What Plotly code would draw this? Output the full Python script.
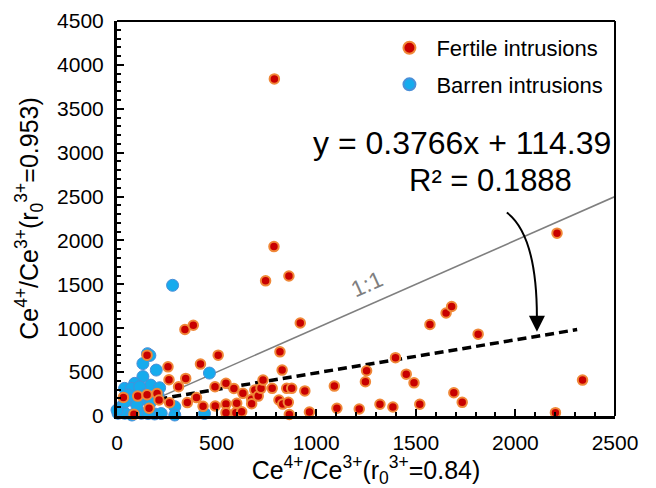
import plotly.graph_objects as go

# ---------------- data ----------------
fertile_x = [790, 788, 746, 863, 2209, 920, 818, 829, 341, 383, 151, 508, 256, 419,
             261, 345, 309, 32, 104, 151, 201, 211, 264, 161, 85, 353, 399, 432, 492,
             493, 547, 547, 547, 587, 601, 597, 632, 626, 676, 676, 692, 709, 723, 733,
             779, 813, 832, 860, 865, 852, 877, 943, 966, 1091, 1104, 1216, 1247, 1253,
             1320, 1385, 1398, 1452, 1491, 1520, 1571, 1652, 1680, 1813, 1691, 1733,
             2201, 2337]
fertile_y = [3840, 1930, 1540, 1595, 2083, 1060, 731, 523, 985, 1034, 693, 693, 560, 591,
             413, 428, 333, 212, 227, 242, 256, 182, 151, 88, 19, 153, 210, 110, 333,
             114, 372, 136, 38, 313, 144, 38, 258, 49, 190, 140, 295, 227, 315, 409,
             315, 182, 136, 156, 17, 315, 315, 286, 45, 341, 88, 80, 390, 515,
             134, 102, 665, 477, 378, 134, 1042, 1174, 1247, 932, 265, 156,
             38, 409]

barren_x = [279, 464, 439, 290, 290, 153, 165, 130, 197, 130, 89, 169, 214, 38, 72, 114,
            55, 206, 166, 22, 5, 39, 75, 122, 156, 189, 222, 0, 115, 70, 40, 140, 100]
barren_y = [1489, 489, 28, 106, 11, 710, 690, 597, 523, 449, 372, 352, 322, 315, 315, 333,
            239, 239, 148, 106, 31, 31, 11, 31, 28, 23, 28, 68, 182, 182, 159, 239, 120]

slope = 0.3766
intercept = 114.39
r2 = 0.1888
fit_x = [0, 2310]
one_x = [0, 2500]

x_range = [0, 2500]
y_range = [0, 4500]
x_ticks = [0, 500, 1000, 1500, 2000, 2500]
y_ticks = [0, 500, 1000, 1500, 2000, 2500, 3000, 3500, 4000, 4500]

FONT = "Liberation Sans, Arial, sans-serif"

fig = go.Figure()

# 1:1 line
fig.add_trace(go.Scatter(x=one_x, y=one_x, mode="lines",
                         line=dict(color="#7f7f7f", width=1.6),
                         showlegend=False, hoverinfo="skip"))
# regression line
fig.add_trace(go.Scatter(x=fit_x, y=[slope * v + intercept for v in fit_x], mode="lines",
                         line=dict(color="black", width=3.5, dash="9px,5px"),
                         showlegend=False, hoverinfo="skip"))

fig.add_trace(go.Scatter(x=barren_x, y=barren_y, mode="markers", name="Barren intrusions",
                         marker=dict(size=12, color="#16abed",
                                     line=dict(color="#4a8fd8", width=1)),
                         cliponaxis=False, legendgroup="b", legendrank=2))
fig.add_trace(go.Scatter(x=fertile_x, y=fertile_y, mode="markers", name="Fertile intrusions",
                         marker=dict(size=9.5, color="#c80000",
                                     line=dict(color="#f08838", width=2)),
                         cliponaxis=False, legendgroup="f", legendrank=1))

# curved arrow
fig.add_shape(type="path", xref="x", yref="y",
              path="M 1957,2318 Q 2108,2057 2108,1120",
              line=dict(color="black", width=2))
fig.add_annotation(x=2108, y=960, ax=2108, ay=1130, xref="x", yref="y",
                   axref="x", ayref="y", text="", showarrow=True,
                   arrowhead=2, arrowsize=1.6, arrowwidth=2, arrowcolor="black")

fig.add_annotation(x=0.693, y=0.692, xref="paper", yref="paper",
                   xanchor="center", yanchor="middle",
                   text=f"y = {slope}x + {intercept}", showarrow=False,
                   font=dict(family=FONT, size=32, color="black"))
fig.add_annotation(x=0.749, y=0.596, xref="paper", yref="paper",
                   xanchor="center", yanchor="middle",
                   text=f"R² = {r2}", showarrow=False,
                   font=dict(family=FONT, size=31, color="black"))
fig.add_annotation(x=0.502, y=0.333, xref="paper", yref="paper",
                   xanchor="center", yanchor="middle",
                   text="1:1", showarrow=False, textangle=-24,
                   font=dict(family=FONT, size=23, color="#7f7f7f"))

# top / right frame
fig.add_shape(type="line", xref="paper", yref="paper", x0=0, x1=1, y0=1, y1=1,
              line=dict(color="black", width=2))
fig.add_shape(type="line", xref="paper", yref="paper", x0=1, x1=1, y0=0, y1=1,
              line=dict(color="black", width=2))

axis_common = dict(showgrid=False, zeroline=False, showline=True, linecolor="black",
                   linewidth=3, ticks="inside", ticklen=7, tickwidth=2, tickcolor="black",
                   automargin=False,
                   tickfont=dict(family=FONT, size=21, color="black"),
                   minor=dict(ticks="inside", ticklen=4, tickwidth=1.5, dtick=100,
                              tickcolor="black"))

fig.update_xaxes(range=x_range, tickvals=x_ticks, ticklabelstandoff=6,
                 title=dict(text="Ce<sup>4+</sup>/Ce<sup>3+</sup>(r<sub>0</sub><sup>3+</sup>=0.84)",
                            font=dict(family=FONT, size=25, color="black")),
                 **axis_common)
fig.update_yaxes(range=y_range, tickvals=y_ticks, ticklabelstandoff=6,
                 title=dict(text="Ce<sup>4+</sup>/Ce<sup>3+</sup>(r<sub>0</sub><sup>3+</sup>=0.953)",
                            font=dict(family=FONT, size=25, color="black"), standoff=12),
                 **axis_common)

fig.update_layout(
    width=656, height=488,
    margin=dict(l=117, r=41, t=21, b=72),
    plot_bgcolor="white", paper_bgcolor="white",
    legend=dict(x=0.533, y=0.985, xanchor="left", yanchor="top",
                font=dict(family=FONT, size=22, color="black"),
                bgcolor="rgba(0,0,0,0)", itemsizing="constant", itemwidth=44,
                tracegroupgap=5, traceorder="grouped"),
)

fig.write_html("out.html", config={"displayModeBar": False},
               post_script="document.body.style.margin='0';")
